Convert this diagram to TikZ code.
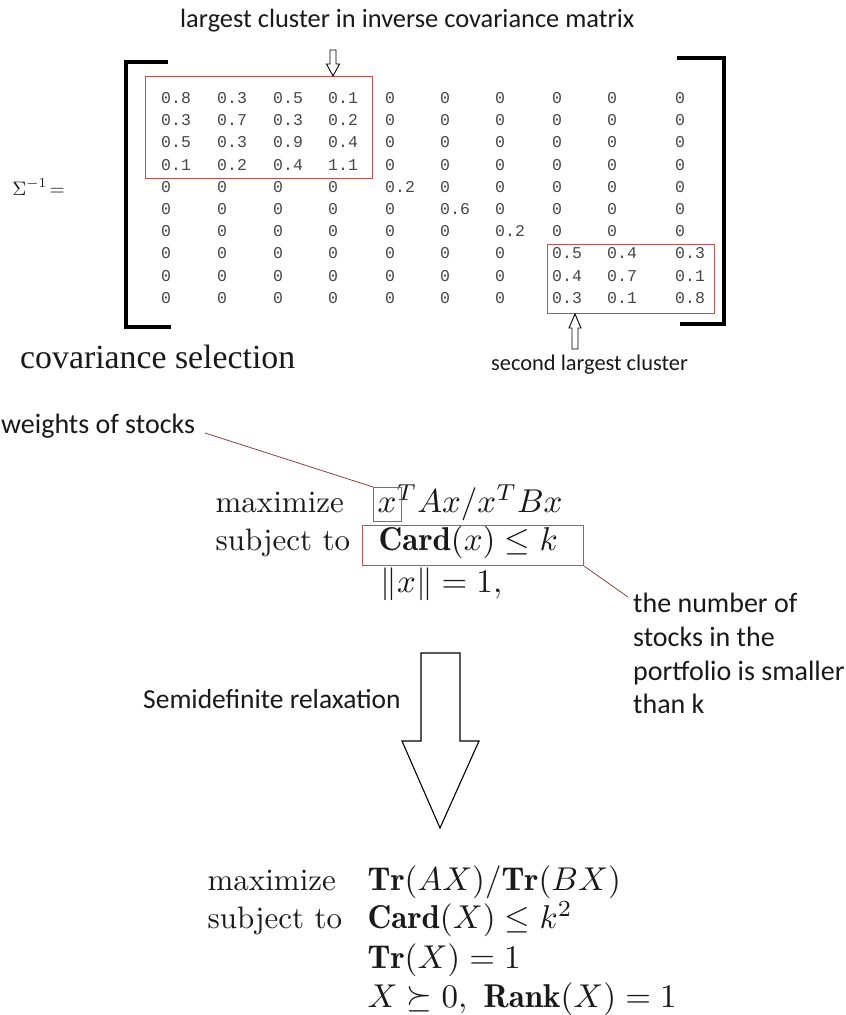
\documentclass[tikz,border=0pt]{standalone}
\usepackage{fontspec}
\newfontfamily\calfont{Carlito}
\newfontfamily\monofnt{Liberation Mono}
\newfontfamily\seriffnt{Liberation Serif}
\definecolor{boxred}{RGB}{192,80,77}
\definecolor{leadred}{RGB}{140,65,65}
\definecolor{digitgray}{RGB}{70,70,70}
\definecolor{inkblack}{RGB}{25,25,25}
\begin{document}
\begin{tikzpicture}[x=1pt,y=-1pt,
  lbl/.style={inner sep=0pt, anchor=base west, text=inkblack},
  calbig/.style={lbl, font=\calfont\fontsize{28}{34}\selectfont},
  caltitle/.style={lbl, font=\calfont\fontsize{26.4}{31}\selectfont},
  calsmall/.style={lbl, font=\calfont\fontsize{22.4}{27}\selectfont},
  formula/.style={lbl, font=\fontsize{10}{12}\selectfont, scale=3.1},
  mathf/.style={lbl, font=\fontsize{10}{12}\selectfont, scale=3.3},
  entry/.style={inner sep=0pt, anchor=west, text=digitgray, font=\monofnt\fontsize{16.5}{20}\selectfont},
  redbox/.style={draw=boxred, line width=1.2pt, inner sep=0pt, anchor=north west},
  leader/.style={draw=leadred, line width=0.8pt},
  bracket/.style={draw=black, line width=4.5pt, line join=miter},
  hollow/.style={draw=black, fill=white, line width=0.9pt, line join=miter},
  bigarrow/.style={draw=black, fill=white, line width=1.1pt, line join=miter}]
\useasboundingbox (0,0) rectangle (846,1015);

% title
\node[caltitle] (title) at (180,27) {largest cluster in inverse covariance matrix};

% Sigma
\node[lbl, font=\fontsize{10}{12}\selectfont, scale=1.95] (sigma) at (12,195) {$\Sigma^{-1}\!=$};

% brackets
\draw[bracket] (168,62) -- (126,62) -- (126,327) -- (171,327);
\draw[bracket] (677,58) -- (724,58) -- (724,324) -- (680,324);

% matrix entries
\foreach \row [count=\r] in {
  {0.8,0.3,0.5,0.1,0,0,0,0,0,0},
  {0.3,0.7,0.3,0.2,0,0,0,0,0,0},
  {0.5,0.3,0.9,0.4,0,0,0,0,0,0},
  {0.1,0.2,0.4,1.1,0,0,0,0,0,0},
  {0,0,0,0,0.2,0,0,0,0,0},
  {0,0,0,0,0,0.6,0,0,0,0},
  {0,0,0,0,0,0,0.2,0,0,0},
  {0,0,0,0,0,0,0,0.5,0.4,0.3},
  {0,0,0,0,0,0,0,0.4,0.7,0.1},
  {0,0,0,0,0,0,0,0.3,0.1,0.8}} {
  \foreach \v [count=\c] in \row {
    \pgfmathsetmacro{\cx}{{161,217,273,328,385,440,495,552,607,675}[\c-1]}
    \pgfmathsetmacro{\ry}{98+22.22*(\r-1)}
    \node[entry] (m-\r-\c) at (\cx,\ry) {\v};
  }
}

% cluster boxes
\node[redbox, minimum width=227pt, minimum height=102pt] (clusterA) at (145,76) {};
\node[redbox, minimum width=167pt, minimum height=69pt] (clusterB) at (547,244) {};

% small hollow arrows
\coordinate (tipA) at (333,76);
\draw[hollow] (tipA) -- ++(-6.5,-12) -- ++(3.5,0) -- ++(0,-14) -- ++(6,0) -- ++(0,14) -- ++(3.5,0) -- cycle;
\coordinate (tipB) at (575,314);
\draw[hollow] (tipB) -- ++(-6,14) -- ++(3,0) -- ++(0,21) -- ++(6,0) -- ++(0,-21) -- ++(3,0) -- cycle;

% labels
\node[lbl, font=\seriffnt\fontsize{33.8}{40}\selectfont] (covsel) at (20,368) {covariance selection};
\node[calsmall] (second) at (491,370) {second largest cluster};
\node[calbig] (weights) at (1,433) {weights of stocks};

% first problem
\node[formula] (max1) at (215,512) {maximize};
\node[formula] (sub1) at (215,550) {subject to};
\node[mathf] (obj1) at (377,512) {$x^T Ax/x^T Bx$};
\node[mathf] (con1) at (378,550) {$\mathbf{Card}(x)\le k$};
\node[mathf] (nrm1) at (380,592) {$\|x\| = 1,$};

\node[redbox, minimum width=28pt, minimum height=34pt] (xbox) at (373,487) {};
\node[redbox, minimum width=221pt, minimum height=40pt] (cardbox) at (362,525) {};

\coordinate (wEnd) at (205,433);
\draw[leader] (wEnd) -- (xbox.north west);
\coordinate (nStart) at (628,597);
\draw[leader] (cardbox.south east) -- (nStart);

\node[calbig] (num1) at (633,612) {the number of};
\node[calbig] (num2) at (633,646) {stocks in the};
\node[calbig] (num3) at (633,680) {portfolio is smaller};
\node[calbig] (num4) at (633,713) {than k};

% big arrow
\draw[bigarrow] (421,653) -- (460,653) -- (460,741) -- (479,741) -- (440,828) -- (402,741) -- (421,741) -- cycle;
\node[calbig, font=\calfont\fontsize{27.5}{33}\selectfont] (sdr) at (143,708) {Semidefinite relaxation};

% relaxed problem
\node[formula] (max2) at (207,890) {maximize};
\node[formula] (sub2) at (207,928) {subject to};
\node[mathf] (obj2) at (367,890) {$\mathbf{Tr}(AX)/\mathbf{Tr}(BX)$};
\node[mathf] (con2) at (367,928) {$\mathbf{Card}(X)\le k^2$};
\node[mathf] (tr2) at (367,968) {$\mathbf{Tr}(X) = 1$};
\node[mathf] (rk2) at (367,1007) {$X \succeq 0,\ \mathbf{Rank}(X) = 1$};
\end{tikzpicture}
\end{document}
